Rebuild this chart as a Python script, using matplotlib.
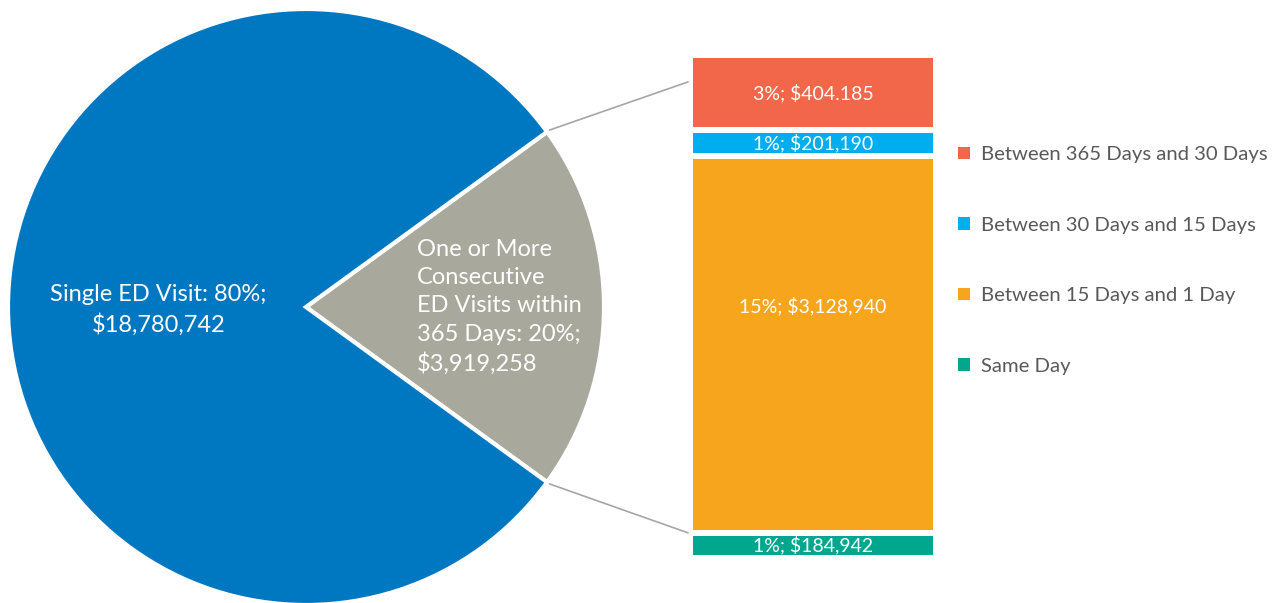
import numpy as np
import matplotlib
matplotlib.use("Agg")
import matplotlib.pyplot as plt
from matplotlib.patches import ConnectionPatch, Patch

plt.rcParams["font.family"] = ["Lato", "DejaVu Sans"]

# pie: share of ED visits / spend
pie_labels = [
    "One or More\nConsecutive\nED Visits within\n365 Days: 20%;\n$3,919,258",
    "Single ED Visit: 80%;\n$18,780,742",
]
pie_values = [20, 80]
pie_colors = ["#A8A89C", "#0077C1"]

# bar: breakdown of the consecutive-visit slice (bottom to top)
bar_categories = ["Same Day", "Between 15 Days and 1 Day",
                  "Between 30 Days and 15 Days", "Between 365 Days and 30 Days"]
bar_values = [1, 15, 1, 3]
bar_labels = ["1%; $184,942", "15%; $3,128,940", "1%; $201,190", "3%; $404.185"]
bar_colors = ["#00A78E", "#F7A51D", "#00AEEF", "#F26749"]

W, H = 1279, 603
fig = plt.figure(figsize=(W / 100, H / 100), dpi=100)


def px_axes(x0, y0, x1, y1):
    # pixel box (top-left origin) -> figure axes
    return fig.add_axes([x0 / W, (H - y1) / H, (x1 - x0) / W, (y1 - y0) / H])


ax_pie = px_axes(8, 9, 604, 605)
half = pie_values[0] / sum(pie_values) * 180
wedges, _ = ax_pie.pie(pie_values, colors=pie_colors, startangle=-half,
                       radius=1, wedgeprops=dict(edgecolor="white", linewidth=3))
ax_pie.set_xlim(-1, 1)
ax_pie.set_ylim(-1, 1)
ax_pie.set_aspect("equal")
ax_pie.axis("off")

ax_pie.text(0.372, 0.0, pie_labels[0], color="white", fontsize=17,
            ha="left", va="center", linespacing=1.43)
ax_pie.text(-0.495, -0.01, pie_labels[1], color="white", fontsize=17,
            ha="center", va="center", linespacing=1.43)

ax_bar = px_axes(690, 55, 936, 558)
total = sum(bar_values)
bottom = 0
for val, lab, col in zip(bar_values, bar_labels, bar_colors):
    ax_bar.bar(0.5, val, width=1, bottom=bottom, color=col,
               edgecolor="white", linewidth=4.3)
    # the tall segment has its label at the middle of the whole bar
    ylab = total / 2 if bottom < total / 2 < bottom + val else bottom + val / 2
    ax_bar.text(0.5, ylab, lab, color="white", fontsize=14,
                ha="center", va="center")
    bottom += val
ax_bar.set_xlim(0, 1)
ax_bar.set_ylim(0, total)
ax_bar.axis("off")

# connector lines from the slice edges to the bar
ang = np.deg2rad(half)
for sgn, yb in [(1, 18.93), (-1, 1.0)]:
    con = ConnectionPatch(xyA=(1.01 * np.cos(ang), sgn * 1.01 * np.sin(ang)),
                          coordsA=ax_pie.transData,
                          xyB=(-0.008, yb), coordsB=ax_bar.transData,
                          color="#A6A6A6", linewidth=1.2)
    fig.add_artist(con)

handles = [Patch(facecolor=c) for c in bar_colors[::-1]]
leg = fig.legend(handles, bar_categories[::-1], loc="upper left",
                 bbox_to_anchor=(948 / W, 1 - 136 / H), frameon=False,
                 fontsize=14.6, handlelength=0.58, handleheight=0.58,
                 handletextpad=0.55, labelspacing=2.64, borderpad=0)
for t in leg.get_texts():
    t.set_color("#595959")

fig.savefig("out.png", dpi=100, facecolor="white")
